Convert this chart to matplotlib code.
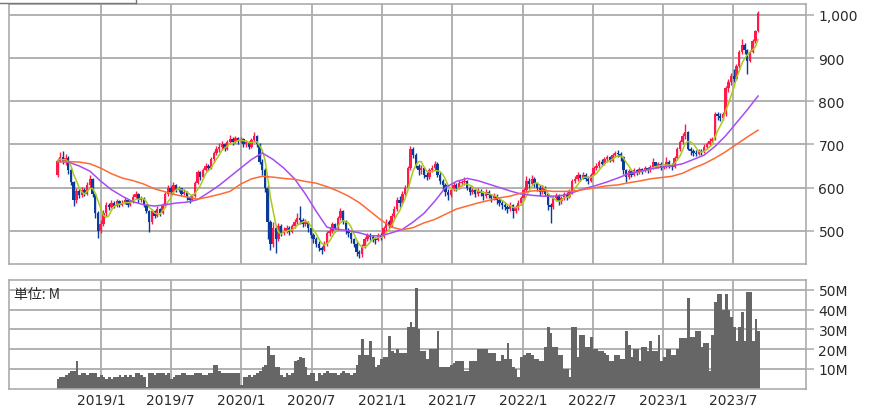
import numpy as np
import pandas as pd
import matplotlib
matplotlib.use('Agg')
import matplotlib.pyplot as plt
import matplotlib.dates as mdates
from matplotlib.lines import Line2D

# ---------------- data (weekly) ----------------
start_date = '2018-09-10'
first_open = 628

close = [662, 670, 660, 668, 640, 612, 570, 592, 582, 595,
         585, 605, 620, 585, 540, 500, 515, 540, 560, 555,
         565, 558, 568, 560, 565, 572, 560, 568, 578, 585,
         570, 575, 560, 545, 520, 545, 535, 550, 540, 560,
         585, 600, 590, 605, 595, 598, 585, 590, 578, 572,
         580, 610, 635, 625, 640, 650, 645, 665, 680, 690,
         695, 700, 690, 705, 712, 705, 715, 708, 712, 700,
         705, 695, 710, 720, 700, 660, 640, 600, 520, 470,
         505, 480, 510, 495, 500, 505, 498, 510, 520, 530,
         525, 515, 520, 505, 490, 480, 470, 460, 455, 470,
         495, 500, 515, 505, 530, 545, 520, 500, 495, 480,
         470, 450, 445, 465, 480, 490, 485, 480, 478, 490,
         485, 505, 520, 510, 535, 550, 570, 565, 585, 600,
         645, 690, 675, 650, 640, 645, 630, 625, 640, 645,
         655, 630, 615, 605, 590, 582, 595, 605, 600, 610,
         612, 615, 600, 590, 595, 585, 592, 588, 580, 590,
         582, 575, 580, 570, 565, 560, 555, 550, 560, 545,
         555, 565, 575, 595, 615, 608, 620, 610, 600, 590,
         600, 585, 560, 555, 575, 580, 568, 575, 585, 578,
         590, 615, 620, 628, 622, 630, 620, 615, 630, 645,
         650, 660, 655, 665, 670, 662, 675, 680, 678, 670,
         640, 625, 638, 630, 640, 635, 642, 638, 645, 640,
         648, 658, 650, 655, 645, 650, 660, 652, 648, 668,
         690, 705, 720, 728, 690, 685, 680, 678, 685, 682,
         695, 700, 708, 712, 770, 765, 760, 770, 830, 845,
         858, 852, 881, 914, 930, 918, 893, 914, 940, 963, 1005]

high = [668, 682, 685, 678, 672, 645, 615, 600, 598, 602,
        600, 612, 628, 622, 588, 545, 525, 548, 566, 565,
        570, 568, 574, 570, 570, 578, 574, 572, 584, 592,
        588, 580, 578, 562, 548, 550, 548, 556, 552, 565,
        590, 606, 604, 612, 608, 603, 600, 596, 592, 580,
        585, 615, 640, 638, 645, 656, 655, 670, 685, 696,
        702, 708, 704, 710, 722, 716, 720, 718, 718, 714,
        710, 708, 714, 728, 722, 702, 665, 645, 605, 525,
        520, 512, 518, 515, 508, 512, 510, 515, 528, 540,
        556, 530, 528, 522, 508, 495, 485, 475, 465, 475,
        500, 508, 520, 518, 535, 552, 548, 525, 505, 498,
        484, 475, 455, 470, 485, 495, 494, 490, 486, 495,
        494, 510, 528, 524, 540, 556, 578, 580, 592, 606,
        650, 697, 695, 680, 655, 652, 648, 636, 645, 652,
        662, 658, 635, 620, 610, 596, 600, 612, 610, 618,
        618, 624, 618, 604, 600, 598, 598, 596, 592, 596,
        594, 586, 588, 584, 575, 570, 566, 560, 566, 562,
        560, 570, 580, 600, 626, 622, 628, 624, 612, 605,
        605, 604, 588, 565, 580, 588, 584, 580, 590, 590,
        596, 620, 626, 635, 632, 636, 634, 626, 634, 650,
        656, 664, 666, 670, 676, 674, 680, 684, 686, 682,
        672, 644, 642, 640, 645, 644, 648, 646, 650, 648,
        652, 668, 660, 660, 658, 655, 670, 664, 656, 672,
        695, 710, 726, 747, 730, 695, 690, 686, 690, 690,
        700, 706, 714, 718, 776, 774, 772, 776, 835, 852,
        866, 874, 886, 918, 944, 935, 922, 918, 945, 966, 1010]

low = [625, 658, 655, 652, 632, 605, 558, 565, 575, 578,
       580, 582, 600, 578, 530, 484, 495, 510, 535, 548,
       552, 552, 555, 555, 556, 562, 555, 558, 565, 575,
       565, 566, 555, 540, 498, 515, 530, 532, 535, 538,
       555, 580, 585, 588, 590, 590, 580, 582, 572, 565,
       568, 578, 608, 618, 622, 638, 640, 642, 660, 675,
       682, 688, 685, 688, 700, 698, 702, 700, 702, 695,
       695, 690, 692, 706, 695, 655, 630, 590, 480, 455,
       462, 449, 475, 488, 490, 495, 490, 495, 505, 515,
       515, 508, 510, 498, 482, 472, 462, 452, 447, 452,
       465, 488, 495, 498, 502, 525, 515, 492, 485, 472,
       462, 442, 437, 440, 460, 475, 478, 474, 470, 476,
       478, 482, 500, 505, 508, 530, 545, 555, 562, 580,
       598, 640, 668, 645, 630, 632, 622, 618, 620, 635,
       640, 625, 608, 595, 580, 572, 578, 592, 592, 596,
       604, 606, 594, 582, 585, 578, 580, 580, 572, 576,
       576, 566, 570, 562, 556, 550, 548, 540, 545, 530,
       540, 548, 560, 570, 590, 600, 605, 602, 592, 580,
       585, 580, 548, 518, 550, 568, 560, 562, 570, 572,
       575, 585, 610, 615, 615, 620, 615, 608, 612, 628,
       640, 645, 650, 652, 660, 658, 660, 670, 670, 662,
       632, 612, 620, 625, 626, 628, 632, 632, 635, 634,
       636, 644, 645, 645, 640, 642, 646, 645, 640, 645,
       665, 685, 700, 712, 688, 676, 674, 672, 675, 676,
       680, 690, 696, 702, 710, 756, 755, 756, 765, 822,
       838, 845, 850, 878, 910, 910, 863, 890, 912, 935, 960]

volume_m = [5, 6, 6, 7, 8, 9, 9, 14, 7, 8,
            8, 7, 8, 8, 8, 6, 7, 6, 5, 6,
            5, 6, 6, 7, 6, 7, 6, 7, 6, 8,
            8, 7, 6, 1, 8, 8, 7, 8, 8, 8,
            7, 8, 5, 6, 7, 7, 8, 8, 7, 7,
            7, 8, 8, 8, 7, 7, 8, 8, 12, 12,
            9, 8, 8, 8, 8, 8, 8, 8, 2, 6,
            6, 7, 6, 7, 8, 9, 11, 12, 21.5, 17,
            17, 11, 11, 7, 6, 8, 7, 8, 14, 14.6,
            16, 15.7, 11, 7, 8, 8, 4, 8, 7, 8,
            9, 8, 8, 8, 7, 8, 9, 8, 8, 7,
            8, 12, 17, 25, 17, 17, 24, 16, 11, 12,
            15, 16, 16, 26.5, 19, 18, 20, 18, 18, 18,
            31, 33.5, 31, 50.7, 30, 19, 19, 15, 20, 20,
            20, 29, 11, 11, 11, 11, 12, 13, 14, 14,
            14, 9, 9, 14, 14, 14, 20, 20, 20, 20,
            18, 18, 18, 14, 14, 17, 15, 23, 15, 11,
            10, 6, 16, 17, 18, 18, 17, 15, 15, 14,
            14, 21, 31, 28, 21, 21, 17, 17, 10, 10,
            6, 31, 31, 16, 27, 27, 21, 21, 26, 20,
            20, 19, 19, 18, 17, 14, 14, 17, 17, 15,
            15, 29, 22, 16, 20, 20, 14, 21, 21, 19,
            24, 19, 19, 27, 14, 16, 20, 20, 17, 17,
            20, 25.5, 25.5, 25.5, 46, 26, 26, 29, 29, 21,
            23, 23, 9, 27, 44, 48, 48, 40, 48, 40,
            36, 31, 24, 31, 39, 24, 49, 49, 24, 35, 29]

# moving averages every 4 weeks
ma_step_weeks = 4
ma26 = [660, 659, 650, 638, 615, 595, 580, 567, 560, 557, 560, 564, 566, 572,
        588, 605, 625, 645, 665, 680, 665, 645, 620, 585, 545, 508, 503, 500,
        495, 488, 488, 495, 503, 520, 540, 568, 600, 614, 621, 616, 608, 600,
        592, 585, 582, 580, 580, 582, 590, 598, 605, 613, 622, 632, 637, 643,
        647, 650, 655, 665, 675, 695, 720, 750, 780, 812]
ma52 = [660, 660, 659, 655, 645, 632, 622, 616, 608, 597, 590, 583, 578, 573,
        578, 584, 591, 608, 620, 626, 624, 621, 619, 614, 610, 602, 592, 580,
        565, 545, 525, 508, 502, 507, 518, 526, 538, 550, 557, 564, 570, 576,
        580, 587, 592, 593, 591, 591, 592, 596, 600, 604, 606, 611, 615, 620,
        623, 626, 633, 645, 655, 668, 683, 700, 717, 733]
short_ma_window = 5

price_ticks = [500, 600, 700, 800, 900, 1000]
price_labels = ['500', '600', '700', '800', '900', '1,000']
vol_ticks = [10, 20, 30, 40, 50]
vol_labels = ['10M', '20M', '30M', '40M', '50M']
date_ticks = ['2019-01-01', '2019-07-01', '2020-01-01', '2020-07-01', '2021-01-01',
              '2021-07-01', '2022-01-01', '2022-07-01', '2023-01-01', '2023-07-01']
date_labels = ['2019/1', '2019/7', '2020/1', '2020/7', '2021/1',
               '2021/7', '2022/1', '2022/7', '2023/1', '2023/7']

n = len(close)
assert len(high) == n and len(low) == n and len(volume_m) == n, (len(high), len(low), len(volume_m))
dates = pd.date_range(start_date, periods=n, freq='7D')
xd = mdates.date2num(dates)
c = np.array(close, float)
o = np.r_[first_open, c[:-1]]
h = np.array(high, float)
l = np.array(low, float)
ma_short = pd.Series(c).rolling(short_ma_window, min_periods=1).mean().values
ma_idx = np.arange(0, n, ma_step_weeks)
xma = xd[ma_idx]

# ---------------- figure ----------------
W, H = 875, 406
fig = plt.figure(figsize=(W / 100, H / 100), dpi=100)
fig.patch.set_facecolor('white')

def rect(lp, tp, rp, bp):
    return [lp / W, 1 - bp / H, (rp - lp) / W, (bp - tp) / H]

ax = fig.add_axes(rect(9, 4.7, 806, 265))
axv = fig.add_axes(rect(9, 281, 806, 389.5))

d0 = mdates.date2num(pd.Timestamp('2019-01-01'))
pxday = 0.3849
xlim = (d0 - 92 / pxday, d0 + 705 / pxday)
grid_c = '#ababab'
text_c = '#2a2a2a'
tick_x = mdates.date2num(pd.to_datetime(date_ticks))

for a in (ax, axv):
    a.set_xlim(*xlim)
    for s in a.spines.values():
        s.set_color(grid_c)
        s.set_linewidth(1.2)
    for t in tick_x:
        a.axvline(t, color=grid_c, lw=1.3, zorder=0)
    a.yaxis.tick_right()
    a.tick_params(axis='y', length=6, width=1.1, color=grid_c, pad=3,
                  labelsize=10, labelcolor=text_c)
    a.tick_params(axis='x', length=0)

# price panel
ax.set_ylim(422.7, 1026)
for p in price_ticks:
    ax.axhline(p, color=grid_c, lw=1.3, zorder=0)
ax.set_yticks(price_ticks)
ax.set_yticklabels(price_labels)
ax.set_xticks(tick_x)
ax.tick_params(axis='x', labelbottom=False)

up = c >= o
red = '#ff1a4b'
blue = '#0b3a9a'
cols = np.where(up, red, blue)
ax.vlines(xd, l, h, colors=cols, lw=1.0, zorder=2)
body_bottom = np.minimum(o, c)
body_h = np.maximum(np.abs(c - o), 2.0)
ax.bar(xd, body_h, bottom=body_bottom, width=6.2, color=cols, lw=0, zorder=3)

ax.plot(xd, ma_short, color='#a6cc1a', lw=1.1, zorder=4)
ax.plot(xma, ma26, color='#a64cf2', lw=1.1, zorder=4)
ax.plot(xma, ma52, color='#ff6a33', lw=1.1, zorder=4)

# volume panel
axv.set_ylim(0, 55)
for v in vol_ticks:
    axv.axhline(v, color=grid_c, lw=1.3, zorder=0)
axv.set_yticks(vol_ticks)
axv.set_yticklabels(vol_labels)
axv.bar(xd - 2, volume_m, width=7, align='edge', color='#666666', lw=0, zorder=2)
axv.set_xticks(tick_x)
axv.set_xticklabels(date_labels)
axv.tick_params(axis='x', labelsize=10, labelcolor=text_c, pad=3)
axv.text(0.006, 0.87, '単位: M', transform=axv.transAxes, fontsize=10,
         family=['Noto Sans CJK JP', 'DejaVu Sans'], color=text_c,
         ha='left', va='center', zorder=5)

# fragment of a box at the top-left edge
yb = 1 - 4.3 / H
fig.add_artist(Line2D([0, 136 / W], [yb, yb], transform=fig.transFigure,
                      color='#777777', lw=1.0))
fig.add_artist(Line2D([136 / W, 136 / W], [yb, 1], transform=fig.transFigure,
                      color='#777777', lw=1.0))

fig.savefig('out.png', dpi=100, facecolor='white')
